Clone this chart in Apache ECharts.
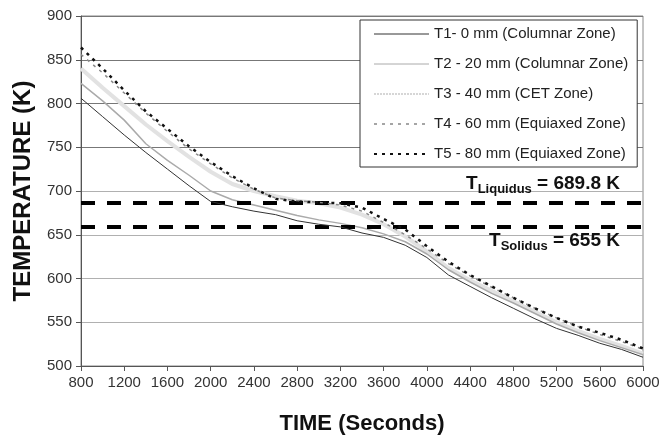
<!DOCTYPE html>
<html>
<head>
<meta charset="utf-8">
<script src="https://cdn.jsdelivr.net/npm/echarts@6/dist/echarts.min.js"></script>
<style>
html,body{margin:0;padding:0;background:#fff;}
#chart{width:664px;height:438px;}
</style>
</head>
<body>
<div id="chart"></div>
<script>
// ---- data ----
const times = [800,1000,1200,1400,1600,1800,2000,2200,2400,2600,2800,3000,3200,3400,3600,3800,4000,4200,4400,4600,4800,5000,5200,5400,5600,5800,6000];
const t1 = [806,785,764,744,725,706,688,682,677,673,666,662,659,652,647,638,624,604,591,578,566,554,543,535,526,519,510];
const t2 = [823,803,781,754,735,718,700,690,684,678,672,667,663,658,651,642,628,610,596,583,572,560,548,538,529,521,513];
const t3 = [840,818,797,776,757,739,722,708,700,694,689,686,681,673,662,648,631,612,598,586,574,562,550,540,531,523,514];
const t4 = [856,835,812,789,768,748,731,715,702,692,689,687,684,677,664,650,634,617,603,590,578,566,555,545,536,528,519];
const t5 = [864,840,815,791,771,751,733,717,703,691,688,687,686,681,668,656,637,619,604,591,578,566,555,545,538,530,520];
const seriesNames = ["T1- 0 mm (Columnar Zone)","T2 - 20 mm (Columnar Zone)","T3 - 40 mm (CET Zone)","T4 - 60 mm (Equiaxed Zone)","T5 - 80 mm (Equiaxed Zone)"];
const liquidusLine = 687;   // drawn position of the liquidus line
const solidusLine = 659;    // drawn position of the solidus line
const liquidusText = "689.8 K";
const solidusText = "655 K";
const xTitle = "TIME (Seconds)";
const yTitle = "TEMPERATURE (K)";

const FONT = 'Arial, "Liberation Sans", sans-serif';
const pair = arr => times.map((t,i)=>[t,arr[i]]);

const chart = echarts.init(document.getElementById('chart'), null, {renderer:'canvas'});
const gridColors = ['#aaa','#b0b0b0','#b0b0b0','#b0b0b0','#b0b0b0','#777','#777','#777','#777'];

const option = {
  animation:false,
  backgroundColor:'#fff',
  grid:{left:81,right:21,top:16,bottom:72,show:true,borderColor:'#888',borderWidth:1,
        containLabel:false,outerBoundsMode:'none'},
  xAxis:{
    type:'value',min:800,max:6000,interval:400,
    axisLine:{show:true,onZero:false,lineStyle:{color:'#555',width:1}},
    axisTick:{show:true,length:5,lineStyle:{color:'#555'}},
    splitLine:{show:false},
    axisLabel:{fontFamily:FONT,fontSize:15,color:'#333',margin:9,formatter:v=>String(v)},
    name:xTitle,nameLocation:'middle',nameGap:47,
    nameTextStyle:{fontFamily:FONT,fontSize:22,fontWeight:'bold',color:'#111'}
  },
  yAxis:{
    type:'value',min:500,max:900,interval:50,
    axisLine:{show:true,lineStyle:{color:'#555',width:1}},
    axisTick:{show:true,length:5,lineStyle:{color:'#555'}},
    splitLine:{show:true,lineStyle:{color:gridColors,width:1}},
    axisLabel:{fontFamily:FONT,fontSize:15,color:'#333',margin:9},
    name:yTitle,nameLocation:'middle',nameGap:46,
    nameTextStyle:{fontFamily:FONT,fontSize:24,fontWeight:'bold',color:'#111'}
  },
  legend:{
    orient:'vertical',left:360,top:20,
    padding:[6,9,5,13],itemGap:14,itemWidth:55,itemHeight:16,
    backgroundColor:'#fff',borderColor:'#333',borderWidth:1,borderRadius:0,
    itemStyle:{opacity:0},
    textStyle:{fontFamily:FONT,fontSize:15,color:'#222',lineHeight:16},
    data:[
      {name:seriesNames[0],lineStyle:{width:1}},
      {name:seriesNames[1],lineStyle:{width:1}},
      {name:seriesNames[2],lineStyle:{width:2,color:'#d6d6d6',type:[2,1]}},
      {name:seriesNames[3],lineStyle:{width:1.5,type:[3,5]}},
      {name:seriesNames[4],lineStyle:{width:2,type:[3,5]}}
    ]
  },
  series:[
    {name:seriesNames[0],type:'line',data:pair(t1),symbol:'none',z:5,
     lineStyle:{color:'#333',width:1},itemStyle:{color:'#333'},
     markLine:{silent:true,symbol:'none',label:{show:false},
       lineStyle:{color:'#000',width:4,type:[14,12]},
       data:[{yAxis:liquidusLine},{yAxis:solidusLine}]}},
    {name:seriesNames[1],type:'line',data:pair(t2),symbol:'none',z:4,
     lineStyle:{color:'#aaa',width:1.5},itemStyle:{color:'#aaa'}},
    {name:seriesNames[2],type:'line',data:pair(t3),symbol:'none',z:3,
     lineStyle:{color:'#e2e2e2',width:4},itemStyle:{color:'#e2e2e2'}},
    {name:seriesNames[3],type:'line',data:pair(t4),symbol:'none',z:6,
     lineStyle:{color:'#888',width:1.5,type:[3,5]},itemStyle:{color:'#888'}},
    {name:seriesNames[4],type:'line',data:pair(t5),symbol:'none',z:7,
     lineStyle:{color:'#111',width:2.5,type:[3,5]},itemStyle:{color:'#111'}}
  ],
  graphic:[
    {type:'text',x:620,y:184,z:100,
     style:{text:'{t|T}{s|Liquidus}{t| = '+liquidusText+'}',align:'right',verticalAlign:'middle',
       rich:{t:{fontFamily:FONT,fontSize:19,fontWeight:'bold',fill:'#111',lineHeight:20},
             s:{fontFamily:FONT,fontSize:13,fontWeight:'bold',fill:'#111',lineHeight:13,padding:[10,0,0,0]}}}},
    {type:'text',x:620,y:241,z:100,
     style:{text:'{t|T}{s|Solidus}{t| = '+solidusText+'}',align:'right',verticalAlign:'middle',
       rich:{t:{fontFamily:FONT,fontSize:19,fontWeight:'bold',fill:'#111',lineHeight:20},
             s:{fontFamily:FONT,fontSize:13,fontWeight:'bold',fill:'#111',lineHeight:13,padding:[10,0,0,0]}}}}
  ]
};
chart.setOption(option);
</script>
</body>
</html>
